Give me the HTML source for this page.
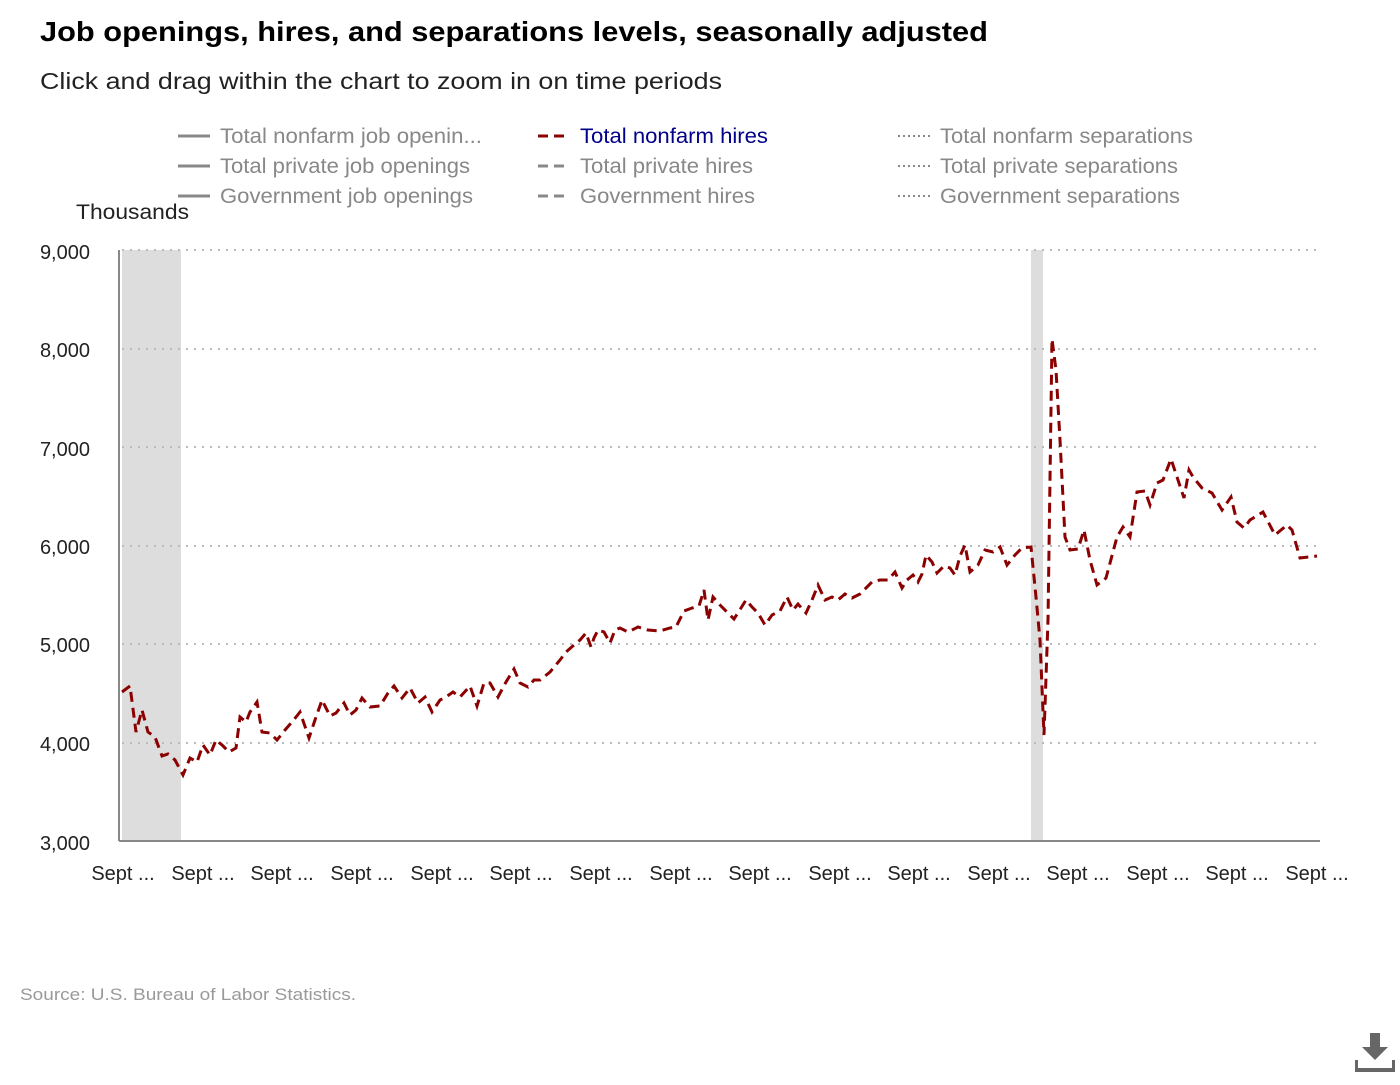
<!DOCTYPE html>
<html><head><meta charset="utf-8"><style>
body{margin:0;background:#fff;width:1400px;height:1080px;overflow:hidden;font-family:"Liberation Sans",sans-serif}
</style></head><body>
<svg width="1400" height="1080" xmlns="http://www.w3.org/2000/svg" font-family="Liberation Sans, sans-serif">
<text x="40" y="41" font-size="28" font-weight="bold" fill="#000" textLength="948" lengthAdjust="spacingAndGlyphs">Job openings, hires, and separations levels, seasonally adjusted</text>
<text x="40" y="89" font-size="23" fill="#222" textLength="682" lengthAdjust="spacingAndGlyphs">Click and drag within the chart to zoom in on time periods</text>
<g font-size="21" fill="#888" lengthAdjust="spacingAndGlyphs">
<line x1="178" y1="136" x2="210" y2="136" stroke="#888" stroke-width="3"/><text x="220" y="143" textLength="262" lengthAdjust="spacingAndGlyphs">Total nonfarm job openin...</text>
<line x1="178" y1="166" x2="210" y2="166" stroke="#888" stroke-width="3"/><text x="220" y="173" textLength="250" lengthAdjust="spacingAndGlyphs">Total private job openings</text>
<line x1="178" y1="196" x2="210" y2="196" stroke="#888" stroke-width="3"/><text x="220" y="203" textLength="253" lengthAdjust="spacingAndGlyphs">Government job openings</text>
<line x1="538" y1="136" x2="570" y2="136" stroke="#8b0000" stroke-width="3" stroke-dasharray="10,6"/><text x="580" y="143" fill="#00008b" textLength="188" lengthAdjust="spacingAndGlyphs">Total nonfarm hires</text>
<line x1="538" y1="166" x2="570" y2="166" stroke="#888" stroke-width="3" stroke-dasharray="10,6"/><text x="580" y="173" textLength="173" lengthAdjust="spacingAndGlyphs">Total private hires</text>
<line x1="538" y1="196" x2="570" y2="196" stroke="#888" stroke-width="3" stroke-dasharray="10,6"/><text x="580" y="203" textLength="175" lengthAdjust="spacingAndGlyphs">Government hires</text>
<line x1="898" y1="136" x2="930" y2="136" stroke="#888" stroke-width="2" stroke-dasharray="2,3"/><text x="940" y="143" textLength="253" lengthAdjust="spacingAndGlyphs">Total nonfarm separations</text>
<line x1="898" y1="166" x2="930" y2="166" stroke="#888" stroke-width="2" stroke-dasharray="2,3"/><text x="940" y="173" textLength="238" lengthAdjust="spacingAndGlyphs">Total private separations</text>
<line x1="898" y1="196" x2="930" y2="196" stroke="#888" stroke-width="2" stroke-dasharray="2,3"/><text x="940" y="203" textLength="240" lengthAdjust="spacingAndGlyphs">Government separations</text>
</g>
<text x="76" y="219" font-size="21" fill="#222" textLength="113" lengthAdjust="spacingAndGlyphs">Thousands</text>
<rect x="122" y="250" width="59" height="591" fill="#dddddd"/>
<rect x="1031" y="250" width="12" height="591" fill="#dddddd"/>
<g stroke="#bbb" stroke-width="2" stroke-dasharray="2,6">
<line x1="122" y1="250" x2="1318" y2="250"/><line x1="122" y1="349" x2="1318" y2="349"/><line x1="122" y1="447" x2="1318" y2="447"/><line x1="122" y1="546" x2="1318" y2="546"/><line x1="122" y1="644" x2="1318" y2="644"/><line x1="122" y1="743" x2="1318" y2="743"/>
</g>
<line x1="119" y1="250" x2="119" y2="841" stroke="#888" stroke-width="2"/>
<line x1="119" y1="841" x2="1320" y2="841" stroke="#888" stroke-width="2"/>
<g font-size="20" fill="#222" text-anchor="end">
<text x="90" y="259">9,000</text><text x="90" y="357">8,000</text><text x="90" y="456">7,000</text><text x="90" y="554">6,000</text><text x="90" y="652">5,000</text><text x="90" y="751">4,000</text><text x="90" y="850">3,000</text>
</g>
<g font-size="20" fill="#222" text-anchor="middle">
<text x="123" y="880">Sept ...</text><text x="203" y="880">Sept ...</text><text x="282" y="880">Sept ...</text><text x="362" y="880">Sept ...</text><text x="442" y="880">Sept ...</text><text x="521" y="880">Sept ...</text><text x="601" y="880">Sept ...</text><text x="681" y="880">Sept ...</text><text x="760" y="880">Sept ...</text><text x="840" y="880">Sept ...</text><text x="919" y="880">Sept ...</text><text x="999" y="880">Sept ...</text><text x="1078" y="880">Sept ...</text><text x="1158" y="880">Sept ...</text><text x="1237" y="880">Sept ...</text><text x="1317" y="880">Sept ...</text>
</g>
<polyline fill="none" stroke="#8b0000" stroke-width="3" stroke-dasharray="10,6" points="122,692 130,686 136,732 142,710 148,732 155,737 162,756 168,754 175,760 183,775 190,758 197,762 203,745 210,755 216,740 222,745 229,752 236,748 240,717 246,722 250,712 257,702 262,732 270,733 277,740 285,730 292,722 300,712 309,738 315,720 322,700 330,716 336,713 344,703 350,715 356,710 362,698 370,707 380,706 388,693 394,686 402,698 410,688 418,703 425,697 432,712 440,700 446,697 453,692 460,697 470,686 477,706 484,683 490,683 498,697 506,682 514,669 520,683 528,687 534,680 540,680 550,672 560,660 566,652 574,645 580,640 586,633 591,647 594,638 598,630 604,632 610,643 615,630 620,628 628,632 638,627 648,630 660,631 670,628 676,627 684,611 692,608 699,606 704,590 708,620 713,597 720,605 728,613 734,619 741,608 746,600 752,607 758,613 765,625 772,615 780,611 787,597 793,610 798,604 806,613 812,600 818,585 825,600 832,597 838,600 845,594 852,598 860,594 872,582 880,580 888,580 895,572 902,588 907,580 913,575 918,582 922,574 926,555 932,562 937,573 944,566 950,568 955,575 960,556 965,545 970,572 978,565 985,550 993,552 1000,547 1007,565 1015,555 1022,548 1031,547 1036,597 1040,640 1044,735 1048,620 1052,339 1056,370 1060,440 1065,537 1070,550 1078,549 1084,530 1090,560 1097,585 1106,578 1117,537 1123,527 1130,537 1137,492 1145,491 1150,505 1157,483 1163,480 1171,459 1177,477 1184,498 1189,470 1193,477 1202,488 1212,493 1222,510 1231,497 1237,522 1244,528 1250,520 1263,512 1275,535 1287,525 1292,530 1300,558 1317,556"/>
<text x="20" y="1000" font-size="17" fill="#999" textLength="336" lengthAdjust="spacingAndGlyphs">Source: U.S. Bureau of Labor Statistics.</text>
<g fill="#666">
<rect x="1370" y="1033" width="10" height="16"/>
<polygon points="1362,1047 1388,1047 1375,1060"/>
<rect x="1355" y="1068" width="40" height="4"/>
<rect x="1355" y="1060" width="3" height="12"/>
<rect x="1392" y="1060" width="3" height="12"/>
</g>
</svg>
</body></html>
